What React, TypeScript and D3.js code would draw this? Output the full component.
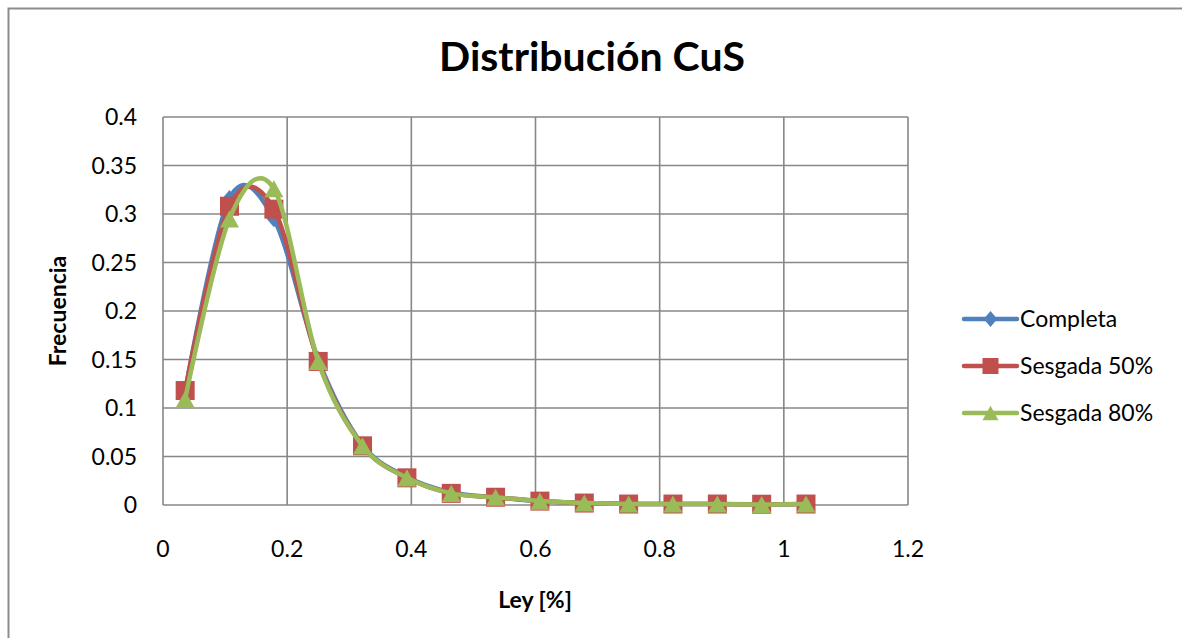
import React from "react";
import * as d3 from "d3";

// Bin midpoints of the grade distribution (Ley %)
const leyBins = [0.0357, 0.1071, 0.1786, 0.25, 0.3214, 0.3929, 0.4643, 0.5357, 0.6071, 0.6786, 0.75, 0.8214, 0.8929, 0.9643, 1.0357];

// Relative frequency per bin for each data set
const completa = [0.117, 0.316, 0.295, 0.15, 0.062, 0.029, 0.013, 0.008, 0.004, 0.002, 0.001, 0.001, 0.001, 0.0005, 0.001];
const sesgada50 = [0.118, 0.308, 0.305, 0.148, 0.061, 0.028, 0.012, 0.008, 0.004, 0.002, 0.001, 0.001, 0.001, 0.0008, 0.001];
const sesgada80 = [0.109, 0.295, 0.326, 0.148, 0.061, 0.028, 0.012, 0.008, 0.004, 0.002, 0.001, 0.001, 0.001, 0.0005, 0.001];

const seriesNames = ["Completa", "Sesgada 50%", "Sesgada 80%"];
const xTicks = [0, 0.2, 0.4, 0.6, 0.8, 1, 1.2];
const yTicks = [0, 0.05, 0.1, 0.15, 0.2, 0.25, 0.3, 0.35, 0.4];

const W = 1182;
const H = 638;
const plot = { left: 163, right: 908, top: 117, bottom: 505 };
const FONT = "Lato, 'Open Sans', sans-serif";
const GRID = "#878787";

const colors = ["#4F81BD", "#C0504D", "#9BBB59"];
const markerKinds = ["diamond", "square", "triangle"];

function Marker({ kind, x, y, color, s }: { kind: string; x: number; y: number; color: string; s: number }) {
  if (kind === "diamond") {
    const h = s / 2;
    return <path d={`M${x},${y - h}L${x + h * 0.85},${y}L${x},${y + h}L${x - h * 0.85},${y}Z`} fill={color} />;
  }
  if (kind === "square") {
    return <rect x={x - s / 2} y={y - s / 2} width={s} height={s} fill={color} />;
  }
  const h = s * 0.9;
  return <path d={`M${x},${y - h / 2}L${x + s / 2},${y + h / 2}L${x - s / 2},${y + h / 2}Z`} fill={color} />;
}

export default function App() {
  const x = d3.scaleLinear().domain([0, 1.2]).range([plot.left, plot.right]);
  const y = d3.scaleLinear().domain([0, 0.4]).range([plot.bottom, plot.top]);
  const line = d3
    .line<[number, number]>()
    .x((d) => x(d[0]))
    .y((d) => y(d[1]))
    .curve(d3.curveCardinal.tension(0));

  const data = [completa, sesgada50, sesgada80];
  const legendY = [319, 366, 413];

  return (
    <svg width={W} height={H} style={{ position: "absolute", left: 0, top: 0, background: "#fff" }}>
      <rect x={8.5} y={8.5} width={W + 20} height={H + 20} fill="#fff" stroke="#8c8c8c" strokeWidth={2} />

      <text x={592} y={71} textAnchor="middle" fontFamily={FONT} fontWeight="bold" fontSize={41} fill="#000">
        Distribución CuS
      </text>

      {/* grid */}
      {yTicks.map((t) => (
        <line key={"gy" + t} x1={plot.left} x2={plot.right} y1={y(t)} y2={y(t)} stroke={GRID} strokeWidth={1.6} />
      ))}
      {xTicks.map((t) => (
        <line key={"gx" + t} x1={x(t)} x2={x(t)} y1={plot.top} y2={plot.bottom} stroke={GRID} strokeWidth={1.6} />
      ))}

      {/* tick labels */}
      {yTicks.map((t) => (
        <text key={"ly" + t} x={137} y={y(t) + 8} textAnchor="end" fontFamily={FONT} fontSize={23} fill="#000">
          {d3.format("~g")(t)}
        </text>
      ))}
      {xTicks.map((t) => (
        <text key={"lx" + t} x={x(t)} y={557} textAnchor="middle" fontFamily={FONT} fontSize={23} fill="#000">
          {d3.format("~g")(t)}
        </text>
      ))}

      <text x={535} y={608} textAnchor="middle" fontFamily={FONT} fontWeight="bold" fontSize={23} fill="#000">
        Ley [%]
      </text>
      <text
        transform={`translate(66,311) rotate(-90)`}
        textAnchor="middle"
        fontFamily={FONT}
        fontWeight="bold"
        fontSize={23}
        fill="#000"
      >
        Frecuencia
      </text>

      {/* series */}
      {data.map((vals, si) => {
        const pts = leyBins.map((b, i) => [b, vals[i]] as [number, number]);
        return (
          <g key={seriesNames[si]}>
            <path d={line(pts) || ""} fill="none" stroke={colors[si]} strokeWidth={4.5} strokeLinejoin="round" strokeLinecap="round" />
            {pts.map((p, i) => (
              <Marker key={i} kind={markerKinds[si]} x={x(p[0])} y={y(p[1])} color={colors[si]} s={si === 0 ? 17 : 19} />
            ))}
          </g>
        );
      })}

      {/* legend */}
      {seriesNames.map((n, si) => (
        <g key={"lg" + n}>
          <line x1={964} x2={1017} y1={legendY[si]} y2={legendY[si]} stroke={colors[si]} strokeWidth={4.5} strokeLinecap="round" />
          <Marker kind={markerKinds[si]} x={990.5} y={legendY[si]} color={colors[si]} s={16} />
          <text x={1020} y={legendY[si] + 8} fontFamily={FONT} fontSize={23} fill="#000">
            {n}
          </text>
        </g>
      ))}
    </svg>
  );
}
